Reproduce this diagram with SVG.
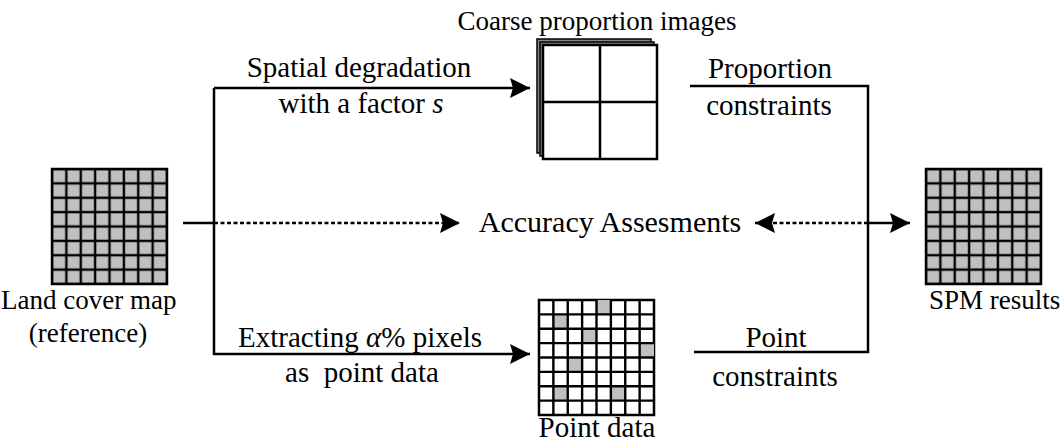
<svg xmlns="http://www.w3.org/2000/svg" width="1063" height="447" viewBox="0 0 1063 447">
<style>
text{font-family:"Liberation Serif","Times New Roman",serif;font-size:29px;fill:#000}
.c{text-anchor:middle}
.nl{font-size:27px}
.ln{stroke:#000;stroke-width:2.5;fill:none}
.dash{stroke:#000;stroke-width:2.5;fill:none;stroke-dasharray:4 2.5}
</style>
<defs>
<marker id="ah" markerUnits="userSpaceOnUse" markerWidth="22" markerHeight="22" refX="20" refY="10" orient="auto-start-reverse">
<path d="M0,0 L20,10 L0,20 L3,10 Z" fill="#000"/>
</marker>
<pattern id="gridg" patternUnits="userSpaceOnUse" x="52" y="169" width="14.375" height="14.375">
<rect x="0" y="0" width="14.375" height="14.375" fill="#c0c0c0" stroke="#000" stroke-width="2.4"/>
</pattern>
<pattern id="gridg2" patternUnits="userSpaceOnUse" x="926" y="169" width="14.375" height="14.375">
<rect x="0" y="0" width="14.375" height="14.375" fill="#c0c0c0" stroke="#000" stroke-width="2.4"/>
</pattern>
</defs>

<g id="land-cover-map">
<rect x="52" y="169" width="115" height="115" fill="url(#gridg)" stroke="#000" stroke-width="2.5"/>
<text class="nl" x="1" y="309">Land cover map</text>
<text class="c nl" x="88" y="342">(reference)</text>
</g>

<g id="spm-results">
<rect x="926" y="169" width="115" height="115" fill="url(#gridg2)" stroke="#000" stroke-width="2.5"/>
<text class="nl" x="929" y="309">SPM results</text>
</g>

<g id="coarse-proportion-images">
<rect x="537" y="39" width="114" height="114" fill="#888" stroke="#000" stroke-width="1.5"/>
<rect x="540" y="42" width="114" height="114" fill="#888" stroke="#000" stroke-width="1.5"/>
<rect x="543" y="45" width="114" height="114" fill="#fff" stroke="#000" stroke-width="2.5"/>
<line x1="600" y1="45" x2="600" y2="159" stroke="#000" stroke-width="2.5"/>
<line x1="543" y1="102" x2="657" y2="102" stroke="#000" stroke-width="2.5"/>
<text class="c nl" x="597" y="30">Coarse proportion images</text>
</g>

<g id="point-data">
<g transform="translate(539,300)">
<rect x="0" y="0" width="115" height="115" fill="#fff" stroke="#000" stroke-width="2.5"/>
<rect x="14.375" y="14.375" width="14.375" height="14.375" fill="#c0c0c0"/>
<rect x="43.125" y="28.75" width="14.375" height="14.375" fill="#c0c0c0"/>
<rect x="28.75" y="57.5" width="14.375" height="14.375" fill="#c0c0c0"/>
<rect x="14.375" y="86.25" width="14.375" height="14.375" fill="#c0c0c0"/>
<rect x="57.5" y="0" width="14.375" height="14.375" fill="#c0c0c0"/>
<rect x="100.625" y="43.125" width="14.375" height="14.375" fill="#c0c0c0"/>
<rect x="71.875" y="86.25" width="14.375" height="14.375" fill="#c0c0c0"/>
<path d="M14.375,0V115M28.75,0V115M43.125,0V115M57.5,0V115M71.875,0V115M86.25,0V115M100.625,0V115M0,14.375H115M0,28.75H115M0,43.125H115M0,57.5H115M0,71.875H115M0,86.25H115M0,100.625H115" stroke="#000" stroke-width="2.4" fill="none"/>
</g>
<text class="c" x="597" y="437">Point data</text>
</g>

<g id="accuracy-assessments">
<text class="c" x="610" y="232" style="font-size:30px">Accuracy Assesments</text>
</g>

<g id="connectors">
<path class="ln" d="M214,88 H530" marker-end="url(#ah)"/>
<path class="ln" d="M214,88 V354 H530" marker-end="url(#ah)"/>
<path class="ln" d="M183,223 H214"/>
<path class="dash" d="M214,223 H460" marker-end="url(#ah)"/>
<path class="dash" d="M868,223 H755" marker-end="url(#ah)"/>
<path class="ln" d="M868,223 H910" marker-end="url(#ah)"/>
<path class="ln" d="M690,86 H868 V352 H694"/>
</g>

<g id="labels">
<text class="c" x="359" y="77">Spatial degradation</text>
<text class="c" x="361" y="113">with a factor <tspan font-style="italic">s</tspan></text>
<text class="c" x="360" y="347">Extracting <tspan font-style="italic">α</tspan>% pixels</text>
<text class="c" x="362" y="382" xml:space="preserve">as  point data</text>
<text class="c" x="770" y="78">Proportion</text>
<text class="c" x="769" y="115">constraints</text>
<text class="c" x="776" y="347">Point</text>
<text class="c" x="775" y="386">constraints</text>
</g>
</svg>
